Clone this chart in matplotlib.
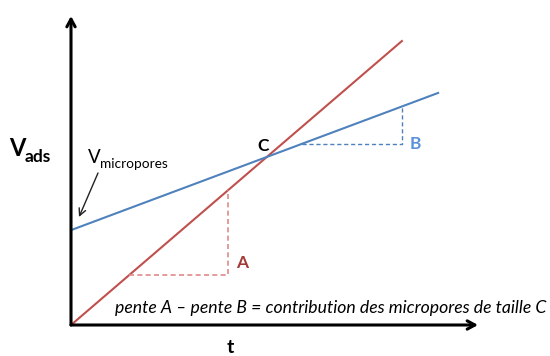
import matplotlib
matplotlib.use("Agg")
import matplotlib.pyplot as plt

# ---- data (schematic, axis units) ----
t_total = [0.0, 8.13]          # red line: total adsorbed volume
v_total = [0.0, 9.19]
t_micro = [0.0, 9.02]          # blue line: micropores
v_micro = [3.07, 7.51]
# slope triangles
triA_t = [1.43, 3.86, 3.86]
triA_v = [1.62, 1.62, 4.36]
triB_t = [5.67, 8.13, 8.13]
triB_v = [5.86, 5.86, 7.07]

RED = "#C0504D"
BLUE = "#4F81BD"
DARKRED = "#A23B38"
LBLUE = "#5B93D6"
FONT = "Lato"

W, H = 550, 356
fig = plt.figure(figsize=(W / 100, H / 100), dpi=100)
# axes: origin at pixel (71,325), x to 478, y up to 16
ax = fig.add_axes([71 / W, 1 - 325 / H, (478 - 71) / W, (325 - 16) / H])
ax.set_xlim(0, 10)
ax.set_ylim(0, 10)
ax.axis("off")

# axes arrows
arrow_kw = dict(arrowstyle="->,head_length=0.55,head_width=0.3", lw=2.2, color="black",
                shrinkA=0, shrinkB=0)
ax.annotate("", xy=(10, 0), xytext=(0, 0), xycoords="data", annotation_clip=False,
            arrowprops=arrow_kw)
ax.annotate("", xy=(0, 10), xytext=(0, 0), xycoords="data", annotation_clip=False,
            arrowprops=arrow_kw)

# lines
ax.plot(t_total, v_total, color=RED, lw=1.5, clip_on=False)
ax.plot(t_micro, v_micro, color=BLUE, lw=1.5, clip_on=False)
ax.plot(triA_t, triA_v, color="#E08A88", lw=1.2, ls=(0, (3, 2)))
ax.plot(triB_t, triB_v, color=BLUE, lw=1.0, ls=(0, (3, 2)))


def ftext(x, y, s, **kw):
    kw.setdefault("family", FONT)
    fig.text(x / W, 1 - y / H, s, **kw)


ftext(9, 156, "V", fontsize=17, fontweight="bold", va="baseline")
ftext(25, 162, "ads", fontsize=12.5, fontweight="bold", va="baseline")
ftext(88, 163, "V", fontsize=13.5, va="baseline")
ftext(100, 168, "micropores", fontsize=9.8, va="baseline")
ftext(257, 151, "C", fontsize=12.5, fontweight="bold", va="baseline")
ftext(236, 268, "A", fontsize=12.5, fontweight="bold", color=DARKRED, va="baseline")
ftext(410, 149, "B", fontsize=12.5, fontweight="bold", color=LBLUE, va="baseline")
ftext(227, 353, "t", fontsize=14, fontweight="bold", va="baseline")
ftext(115, 313, "pente A \u2013 pente B = contribution des micropores de taille C",
      fontsize=12.7, style="italic", va="baseline")

# arrow pointing to the intercept
ax.annotate("", xy=(79, H - 217), xytext=(98, H - 173), xycoords="figure pixels",
            textcoords="figure pixels", annotation_clip=False,
            arrowprops=dict(arrowstyle="->,head_length=0.5,head_width=0.25", lw=1.0,
                            color="#222222", shrinkA=0, shrinkB=0))

fig.savefig("out.png", dpi=100, facecolor="white")
